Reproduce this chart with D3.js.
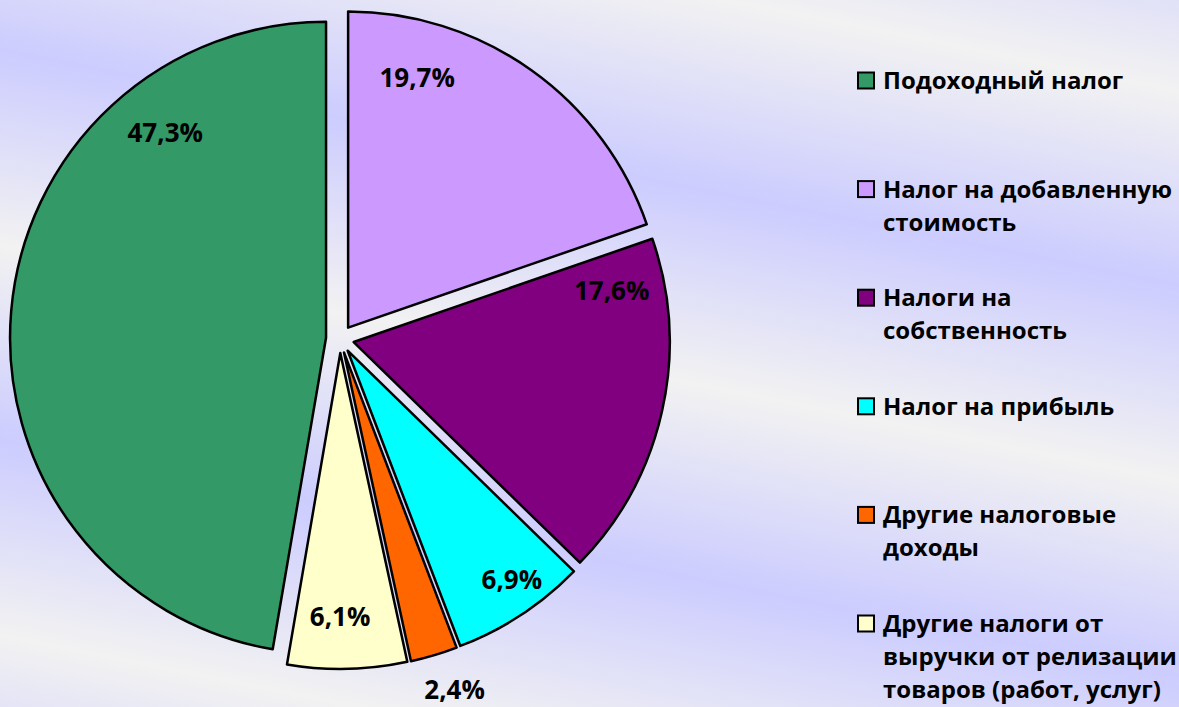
<!DOCTYPE html>
<html>
<head>
<meta charset="utf-8">
<script src="https://cdn.jsdelivr.net/npm/d3@7"></script>
<style>
  html, body { margin: 0; padding: 0; background: #e6e6f8; }
  svg { display: block; }
  text { font-family: "Open Sans", "Noto Sans", sans-serif; font-weight: bold; fill: #000; }
</style>
</head>
<body>
<svg id="chart" width="1179" height="707"></svg>
<script>
// ---- data ----
const categories = [
  "Подоходный налог",
  "Налог на добавленную\nстоимость",
  "Налоги на\nсобственность",
  "Налог на прибыль",
  "Другие налоговые\nдоходы",
  "Другие налоги от\nвыручки от релизации\nтоваров (работ, услуг)"
];
const shares = [47.3, 19.7, 17.6, 6.9, 2.4, 6.1];
const sliceColors = ["#339966", "#CC99FF", "#800080", "#00FFFF", "#FF6600", "#FFFFCC"];

// ---- layout (separate from data) ----
const W = 1179, H = 707;
const cx = 340, cy = 339, R = 316, explode = 14;
// label placement: angular shift (deg) from slice mid-angle and radius from slice apex
const labelAngleShift = [47.1, -20.0, -23.8, -2.3, -1.6, 1.3];
const labelRadius = [261, 259, 263, 282, 355, 264];
const labelFont = 26;
const legendX = 857, legendY0 = 80.5, legendStep = 108.6, legendBox = 16, legendLine = 33, legendFont = 24;

const svg = d3.select("#chart");
const defs = svg.append("defs");

// background banded gradient
const g = defs.append("linearGradient")
  .attr("id", "bg")
  .attr("gradientUnits", "userSpaceOnUse")
  .attr("spreadMethod", "reflect")
  .attr("x1", 0).attr("y1", 245)
  .attr("x2", -37.5).attr("y2", 432.5);
g.append("stop").attr("offset", "0%").attr("stop-color", "#f2f2f2");
g.append("stop").attr("offset", "100%").attr("stop-color", "#ccccff");
svg.append("rect").attr("width", W).attr("height", H).attr("fill", "url(#bg)");

// pie
const total = d3.sum(shares);
const start = 2 * Math.PI * (1 - shares[0] / total);
const pie = d3.pie().sort(null).value(d => d).startAngle(start).endAngle(start + 2 * Math.PI);
const arcs = pie(shares);
const arc = d3.arc().innerRadius(0).outerRadius(R);
const fmt = v => d3.format(".1f")(v).replace(".", ",") + "%";

const pieG = svg.append("g").attr("transform", `translate(${cx},${cy})`);
const slice = pieG.selectAll("g.slice").data(arcs).join("g")
  .attr("class", "slice")
  .attr("transform", d => {
    const m = (d.startAngle + d.endAngle) / 2;
    return `translate(${explode * Math.sin(m)},${-explode * Math.cos(m)})`;
  });
slice.append("path")
  .attr("d", arc)
  .attr("fill", (d, i) => sliceColors[i])
  .attr("stroke", "#000")
  .attr("stroke-width", 2.5)
  .attr("stroke-linejoin", "round");
slice.append("text")
  .attr("text-anchor", "middle")
  .attr("dy", "0.36em")
  .attr("font-size", labelFont)
  .attr("x", (d, i) => {
    const m = (d.startAngle + d.endAngle) / 2 + labelAngleShift[i] * Math.PI / 180;
    return labelRadius[i] * Math.sin(m);
  })
  .attr("y", (d, i) => {
    const m = (d.startAngle + d.endAngle) / 2 + labelAngleShift[i] * Math.PI / 180;
    return -labelRadius[i] * Math.cos(m);
  })
  .text(d => fmt(d.data));

// legend
const leg = svg.append("g");
const item = leg.selectAll("g.item").data(categories).join("g")
  .attr("class", "item")
  .attr("transform", (d, i) => `translate(${legendX},${legendY0 + i * legendStep})`);
item.append("rect")
  .attr("x", 1).attr("y", -legendBox / 2)
  .attr("width", legendBox).attr("height", legendBox)
  .attr("fill", (d, i) => sliceColors[i])
  .attr("stroke", "#000").attr("stroke-width", 2);
item.append("text")
  .attr("font-size", legendFont)
  .selectAll("tspan").data(d => d.split("\n")).join("tspan")
  .attr("x", 26)
  .attr("y", (d, j) => 8.5 + j * legendLine)
  .text(d => d);
</script>
</body>
</html>
